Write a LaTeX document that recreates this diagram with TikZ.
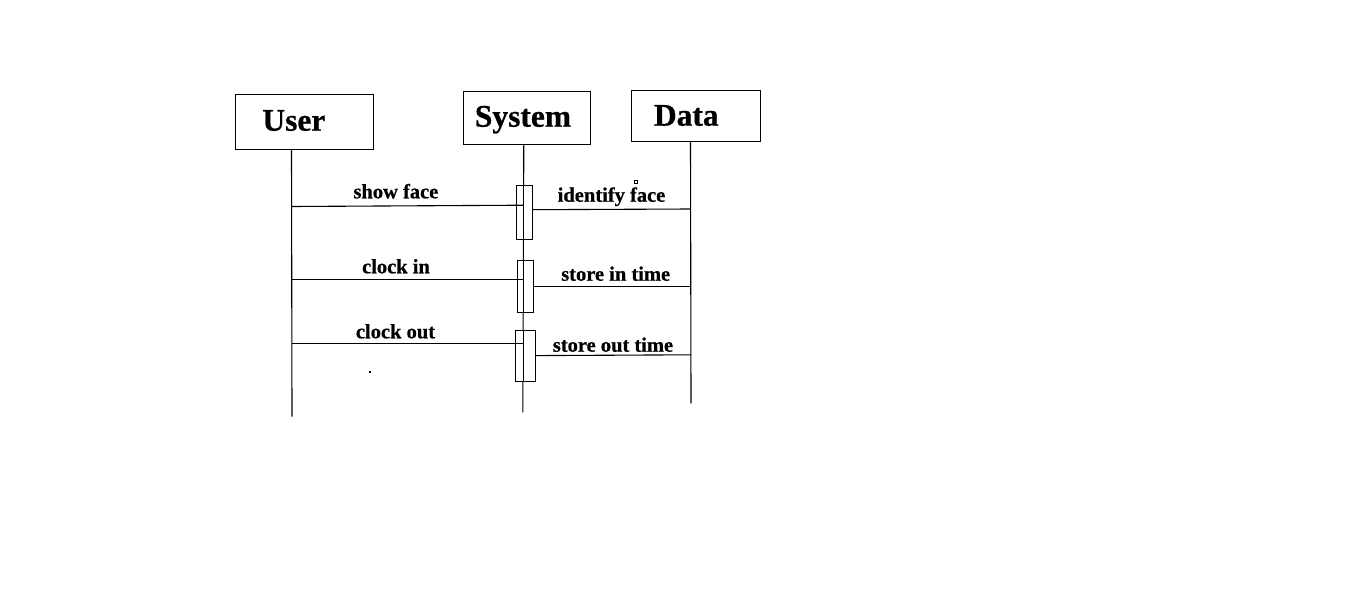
\documentclass[tikz,border=0pt]{standalone}
\usepackage{fontspec}
\setmainfont{Liberation Serif}[BoldFeatures={FakeBold=0.6}]
\begin{document}
\begin{tikzpicture}[x=1pt,y=-1pt,line width=1.1pt,
  headbox/.style={draw,rectangle,inner sep=0pt},
  headtext/.style={inner sep=0pt,anchor=base,font=\fontsize{31.5}{36}\selectfont\bfseries},
  msgtext/.style={inner sep=0pt,anchor=base,font=\fontsize{20.5}{24}\selectfont\bfseries},
  actbox/.style={draw,rectangle,inner sep=0pt},
  msgline/.style={draw}]
\useasboundingbox (0,0) rectangle (1358,595);
% heads
\node[headbox,minimum width=137.6pt,minimum height=55pt] (user) at (304.5,121.8) {};
\node[headbox,minimum width=127.4pt,minimum height=52.6pt] (sys) at (527,118) {};
\node[headbox,minimum width=128.6pt,minimum height=51pt] (data) at (696,115.8) {};
\node[headtext] (userT) at (293.9,130.7) {User};
\node[headtext] (sysT) at (523,126.7) {System};
\node[headtext] (dataT) at (686.3,125.7) {Data};
% lifelines
\coordinate (uTop) at (291.5,149.3);
\coordinate (uBot) at (292,416.7);
\coordinate (sTop) at (523.8,144.3);
\coordinate (sBot) at (522.8,412.3);
\coordinate (dTop) at (690.5,141.3);
\coordinate (dBot) at (691,403.3);
\draw (uTop) -- (uBot);
\draw (sTop) -- (sBot);
\draw (dTop) -- (dBot);
% activations
\node[actbox,fill=white,minimum width=16pt,minimum height=53.7pt] (act1) at (524.3,212.2) {};
\node[actbox,fill=white,minimum width=16pt,minimum height=51.6pt] (act2) at (525.3,286.5) {};
\node[actbox,fill=white,minimum width=20pt,minimum height=51pt] (act3) at (525.3,355.8) {};
\draw (act1.north -| sTop) -- (act1.south -| sTop);
\draw (act2.north -| sTop) -- (act2.south -| sTop);
\draw (act3.north -| sTop) -- (act3.south -| sTop);
% messages
\coordinate (m1a) at (291.5,206.5);
\coordinate (m1b) at (523.5,205.2);
\coordinate (m2a) at (532.3,209.7);
\coordinate (m2b) at (690.5,209);
\coordinate (m3a) at (291.5,279.3);
\coordinate (m3b) at (523.5,279.3);
\coordinate (m4a) at (533.3,286.2);
\coordinate (m4b) at (691,286.2);
\coordinate (m5a) at (292,343.3);
\coordinate (m5b) at (523.5,343.3);
\coordinate (m6a) at (535.3,355.6);
\coordinate (m6b) at (691,354.8);
\draw[msgline] (m1a) -- (m1b);
\draw[msgline] (m2a) -- (m2b);
\draw[msgline] (m3a) -- (m3b);
\draw[msgline] (m4a) -- (m4b);
\draw[msgline] (m5a) -- (m5b);
\draw[msgline] (m6a) -- (m6b);
\node[msgtext] (t1) at (395.9,198.3) {show face};
\node[msgtext] (t2) at (611.5,201.7) {identify face};
\node[msgtext] (t3) at (396,273.3) {clock in};
\node[msgtext] (t4) at (615.7,280.7) {store in time};
\node[msgtext] (t5) at (395.5,338.3) {clock out};
\node[msgtext] (t6) at (613,351.7) {store out time};
% stray marks
\draw[line width=0.8pt] (634.5,180.8) rectangle (637.5,183.8);
\fill (369,370.7) rectangle (371,372.7);
\end{tikzpicture}
\end{document}
